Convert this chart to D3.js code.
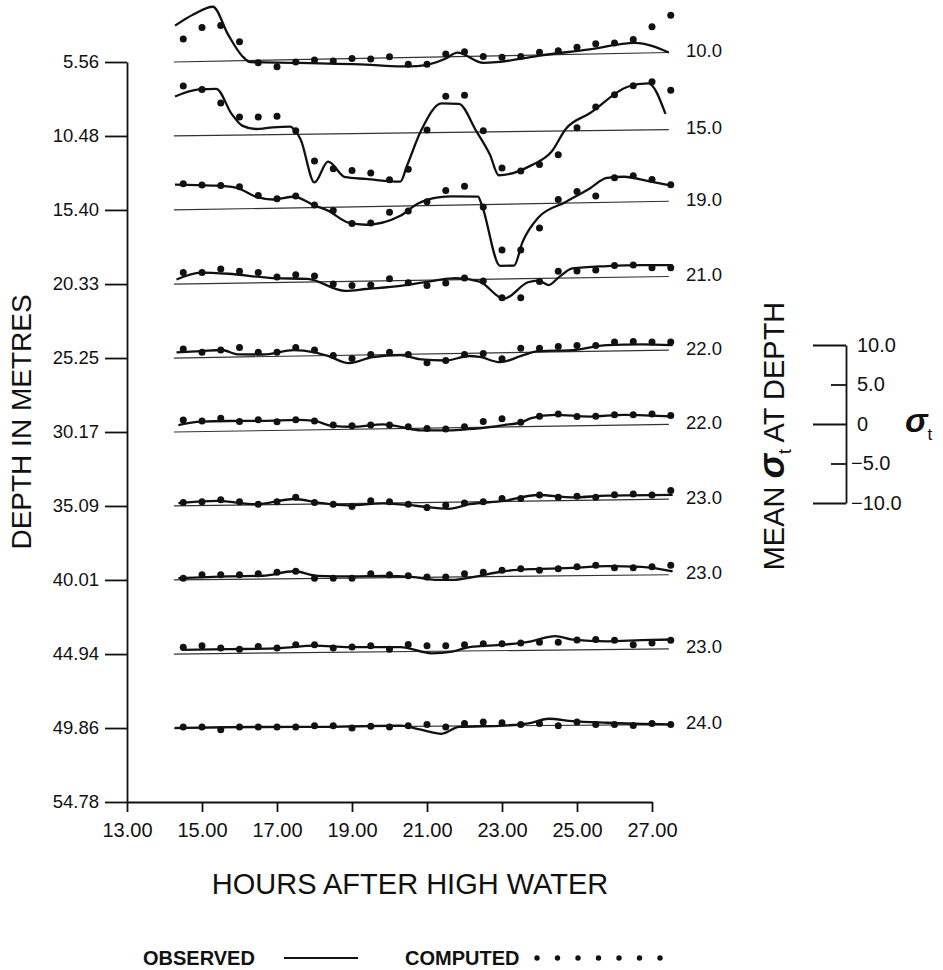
<!DOCTYPE html>
<html>
<head>
<meta charset="utf-8">
<script src="https://cdn.jsdelivr.net/npm/d3@7"></script>
<style>
  body { margin: 0; background: #fff; }
  svg text { font-family: "Liberation Sans", Arial, Helvetica, sans-serif; fill: #111; }
</style>
</head>
<body>
<div id="chart"></div>
<script>
// times of the computed values, hours after high water
var hours = [14.5, 15.0, 15.5, 16.0, 16.5, 17.0, 17.5, 18.0, 18.5, 19.0, 19.5, 20.0, 20.5, 21.0,
             21.5, 22.0, 22.5, 23.0, 23.5, 24.0, 24.5, 25.0, 25.5, 26.0, 26.5, 27.0, 27.5];
var hourTicks = [13, 15, 17, 19, 21, 23, 25, 27];
var depthTicks = [5.56, 10.48, 15.40, 20.33, 25.25, 30.17, 35.09, 40.01, 44.94, 49.86, 54.78];
// mean sigma-t written beside each depth trace
var meanSigma = ["10.0", "15.0", "19.0", "21.0", "22.0", "22.0", "23.0", "23.0", "23.0", "24.0"];
// rise of each reference line over the record, sigma-t units
var baseDrift = [1.2, 0.8, 1.1, 0.96, 1.0, 0.96, 0.87, 0.66, 0.66, 0.43];
var sigmaTicks = [10, 5, 0, -5, -10];

// observed: [hour, sigma-t anomaly]
var obs1 = [[14.28,4.6],[14.78,6.0],[15.29,6.9],[15.7,3.3],[16.07,0.6],[16.29,-0.2],[17.54,-0.4],[19.37,-0.8],
            [20.29,-1.1],[20.74,-1.1],[21.49,-0.25],[21.81,0.5],[22.5,-0.85],[22.86,-0.8],[23.97,-0.1],
            [25.34,0.6],[26.54,1.3],[27.45,0]];
var obs2 = [[14.28,5.0],[14.92,5.85],[15.38,5.9],[15.79,2.7],[16.07,1.2],[16.43,0.75],[16.89,0.94],[17.35,1.0],
            [17.49,0.45],[17.63,-0.65],[18.0,-6.1],[18.36,-3.5],[18.82,-5.5],[19.37,-5.75],[20.29,-6.15],
            [20.47,-4.1],[20.84,0.25],[21.39,3.7],[21.85,3.6],[22.31,0.16],[22.68,-2.9],[22.91,-5.5],
            [23.78,-4.3],[24.33,-2.55],[24.7,0.25],[25.34,2.2],[26.35,5.5],[26.9,5.9],[27.36,2.0]];
var obs3 = [[14.28,3.2],[15.27,3.0],[15.9,2.7],[16.43,1.5],[16.89,1.1],[17.45,1.4],[18.0,0.25],[18.36,-0.43],
            [18.91,-2.0],[19.37,-2.3],[20.29,-1.24],[20.75,0.25],[21.3,1.0],[21.67,1.1],[22.36,1.0],
            [22.45,0.1],[22.95,-7.8],[23.32,-7.8],[23.55,-4.8],[23.97,-1.76],[24.7,0.14],[25.34,1.8],
            [25.8,3.1],[26.26,3.2],[26.9,2.6],[27.55,1.95]];
var obs4 = [[14.32,0.57],[14.97,1.4],[15.7,1.2],[16.89,0.56],[17.81,0.4],[18.82,-1.2],[19.37,-1.0],[20.29,-0.66],
            [21.21,-0.06],[21.76,0.2],[22.4,-0.28],[23.05,-2.5],[23.69,-0.46],[23.97,-0.27],[24.24,-0.85],
            [24.52,0.13],[24.88,1.2],[25.8,1.43],[26.72,1.5],[27.55,1.43]];
var obs5 = [[14.32,0.7],[14.97,0.82],[15.52,0.92],[15.98,0.32],[16.62,0.27],[17.45,0.77],[18.0,0.43],[18.36,-0.05],
            [18.91,-1.0],[19.56,-0.27],[20.29,-0.1],[20.84,-0.67],[21.49,-0.86],[22.13,-0.34],[22.4,-0.48],
            [22.95,-1.19],[23.51,-0.44],[23.97,0.13],[24.88,0.2],[25.8,0.77],[26.72,0.78],[27.55,0.63]];
var obs6 = [[14.37,0.87],[14.97,1.25],[15.7,1.29],[16.62,1.23],[17.54,1.29],[18.0,1.13],[18.46,0.48],[19.01,0.32],
            [19.83,0.56],[20.29,0.22],[20.84,-0.27],[21.67,-0.33],[22.31,-0.15],[23.05,0.24],[23.51,0.54],
            [23.78,1.05],[24.42,1.44],[25.34,1.15],[26.26,1.3],[27.55,0.99]];
var obs7 = [[14.37,0.34],[15.42,0.57],[16.43,0.08],[17.45,0.67],[18.09,0.18],[18.91,-0.22],[19.83,-0.03],
            [20.75,-0.43],[21.58,-0.84],[22.13,-0.3],[23.05,0.06],[23.97,0.75],[24.88,0.39],[25.8,0.54],[27.55,0.52]];
var obs8 = [[14.37,0.22],[15.7,0.38],[16.62,0.41],[17.45,0.94],[18.09,0.33],[19.01,0.22],[19.83,0.24],[20.66,0.04],
            [21.21,-0.34],[21.67,-0.37],[22.22,-0.04],[23.05,0.66],[23.97,0.91],[24.88,1.0],[25.8,1.18],
            [26.72,1.04],[27.55,0.43]];
var obs9 = [[14.46,0.52],[15.7,0.54],[17.08,0.61],[18.0,0.87],[18.91,0.65],[20.29,0.58],[21.12,-0.25],[21.67,-0.06],
            [22.13,0.48],[23.05,0.75],[23.78,1.14],[24.42,1.76],[24.88,1.3],[25.8,1.04],[26.72,1.13],[27.55,1.18]];
var obs10 = [[14.28,0],[15.7,0.08],[17.54,0.03],[20.29,0.11],[20.84,-0.43],[21.39,-0.96],[21.85,-0.11],[23.05,0.03],
             [23.78,0.35],[24.24,0.85],[24.88,0.53],[25.8,0.29],[27.55,0]];

// computed: one value per entry of hours
var comp1 = [2.9, 4.3, 4.5, 2.4, -0.3, -0.85, -0.3, -0.1, -0.25, 0, -0.1, 0.15, -0.85, -0.9, 0.35, 0.6, -0.05,
             -0.2, -0.15, 0.35, 0.5, 0.9, 1.3, 1.35, 1.75, 3.3, 4.7];
var comp2 = [6.3, 5.85, 4.1, 2.3, 2.27, 2.33, 0.46, -3.4, -4.4, -4.65, -5.0, -5.9, -4.6, 0.34, 4.6, 4.7, 0.16,
             -4.6, -5.0, -4.2, -3.0, 0.38, 3.0, 4.5, 5.6, 6.1, 5.0];
var comp3 = [3.3, 3.1, 3.0, 2.8, 1.65, 1.2, 1.5, 0.3, -0.43, -2.1, -2.1, -0.76, -0.67, 0.47, 1.86, 2.34, -0.33,
             -5.8, -5.85, -3.1, 0.48, 1.44, 0.82, 3.1, 3.3, 2.8, 2.1];
var comp4 = [1.43, 1.4, 1.8, 1.5, 1.3, 0.68, 0.95, 0.75, -0.3, -0.54, -0.5, 0.25, -0.3, -0.68, -0.38, 0.2, -0.2,
             -2.37, -2.4, -0.38, 0.89, 0.86, 0.95, 1.48, 1.53, 1.14, 1.1];
var comp5 = [1.13, 0.66, 0.92, 1.19, 0.56, 0.51, 1.08, 0.73, 0.0, -0.43, 0.05, 0.29, -0.03, -1.11, -0.85, -0.14,
             -0.05, -0.75, 0.53, 0.49, 0.67, 0.76, 0.72, 1.13, 1.18, 1.05, 1.01];
var comp6 = [1.5, 1.34, 1.66, 1.19, 1.38, 1.11, 1.3, 1.13, 0.57, 0.44, 0.51, 0.47, 0.22, -0.04, -0.16, 0.1, 0.72,
             1.03, 0.56, 1.27, 1.53, 1.19, 1.16, 1.34, 1.29, 1.34, 1.14];
var comp7 = [0.42, 0.5, 0.71, 0.42, 0.08, 0.34, 0.89, 0.19, -0.06, -0.39, 0.32, 0.15, -0.18, -0.65, -0.38, -0.15,
             0, 0.38, 0.35, 0.76, 0.43, 0.52, 0.37, 0.63, 0.72, 0.56, 1.1];
var comp8 = [0.2, 0.62, 0.61, 0.58, 0.68, 0.84, 0.94, 0.03, 0.01, -0.01, 0.53, 0.38, 0.22, 0.03, 0, 0.4, 0.56,
             0.8, 0.94, 0.75, 0.9, 1.13, 1.29, 0.95, 0.94, 1.03, 1.19];
var comp9 = [0.86, 1.03, 0.7, 0.53, 0.86, 0.62, 1.03, 0.99, 0.54, 0.65, 0.8, 0.33, 0.89, 0.72, 0.7, 0.8, 0.9,
             0.87, 0.94, 1.0, 0.99, 1.23, 1.29, 1.16, 0.57, 0.76, 1.1];
var comp10 = [0.11, 0.1, -0.25, 0.08, 0.05, 0.04, 0.01, 0.18, 0.16, -0.15, 0.05, -0.06, 0.1, 0.22, -0.1, 0.32,
              0.48, 0.38, 0.14, 0.27, -0.03, 0.41, 0.08, 0.05, -0.09, 0.15, 0];

var observed = [obs1, obs2, obs3, obs4, obs5, obs6, obs7, obs8, obs9, obs10];
var computed = [comp1, comp2, comp3, comp4, comp5, comp6, comp7, comp8, comp9, comp10];

var width = 943, height = 970;
var svg = d3.select("#chart").append("svg")
    .attr("width", width)
    .attr("height", height);

var x = d3.scaleLinear().domain([13, 27]).range([127, 652]);
var y = d3.scaleLinear().domain([5.56, 54.78]).range([62, 802]);
// sigma-t anomaly -> vertical offset in pixels
var sig = d3.scaleLinear().domain([-10, 10]).range([79, -79]);
var tStart = 14.25, tEnd = 27.45;

function yAt(p, t, v) {
  return y(depthTicks[p]) + sig(v + baseDrift[p] * (t - tStart) / (tEnd - tStart));
}

// depth axis
var yAxis = d3.axisLeft(y)
    .tickValues(depthTicks)
    .tickFormat(d3.format(".2f"))
    .tickSize(22)
    .tickSizeOuter(0)
    .tickPadding(6);
var gy = svg.append("g").attr("transform", "translate(127,0)").call(yAxis);
gy.attr("font-size", null).attr("font-family", null);
gy.selectAll("text").style("font-size", "18.5px");
gy.selectAll("line,path").attr("stroke", "#111").attr("stroke-width", 1.8);

// time axis
var xAxis = d3.axisBottom(x)
    .tickValues(hourTicks)
    .tickFormat(d3.format(".2f"))
    .tickSize(10)
    .tickSizeOuter(0)
    .tickPadding(11);
var gx = svg.append("g").attr("transform", "translate(0,802)").call(xAxis);
gx.attr("font-size", null).attr("font-family", null);
gx.selectAll("text").style("font-size", "20px");
gx.selectAll("line,path").attr("stroke", "#111").attr("stroke-width", 1.8);

// axis titles
svg.append("text")
    .attr("transform", "translate(31,422) rotate(-90)")
    .attr("text-anchor", "middle")
    .style("font-size", "28px")
    .text("DEPTH IN METRES");

svg.append("text")
    .attr("x", 410)
    .attr("y", 894)
    .attr("text-anchor", "middle")
    .style("font-size", "29px")
    .text("HOURS AFTER HIGH WATER");

// one trace per depth
var line = d3.line().curve(d3.curveMonotoneX);

observed.forEach(function (obs, p) {
  var g = svg.append("g").attr("class", "depth-trace");

  // reference line (mean sigma-t)
  g.append("line")
      .attr("x1", x(tStart)).attr("y1", yAt(p, tStart, 0))
      .attr("x2", x(tEnd)).attr("y2", yAt(p, tEnd, 0))
      .attr("stroke", "#333")
      .attr("stroke-width", 1.2);

  g.append("path")
      .attr("d", line.x(function (d) { return x(d[0]); })
                     .y(function (d) { return yAt(p, d[0], d[1]); })(obs))
      .attr("fill", "none")
      .attr("stroke", "#111")
      .attr("stroke-width", 2.3);

  g.selectAll("circle")
      .data(computed[p])
      .enter()
      .append("circle")
      .attr("cx", function (d, i) { return x(hours[i]); })
      .attr("cy", function (d, i) { return yAt(p, hours[i], d); })
      .attr("r", 3.5)
      .attr("fill", "#111");

  g.append("text")
      .attr("x", 686)
      .attr("y", yAt(p, tEnd, 0) - 2)
      .attr("dy", "0.35em")
      .style("font-size", "18.5px")
      .text(meanSigma[p]);
});

// sigma-t scale bar
var sBar = d3.scaleLinear().domain([-10, 10]).range([424 + 79, 424 - 79]);
var sAxis = d3.axisRight(sBar)
    .tickValues(sigmaTicks)
    .tickFormat(function (d) { return d === 0 ? "0" : d3.format(".1f")(d); })
    .tickSize(-33)
    .tickSizeOuter(0)
    .tickPadding(11);
var gs = svg.append("g").attr("transform", "translate(846,0)").call(sAxis);
gs.attr("font-size", null).attr("font-family", null);
gs.selectAll("text").style("font-size", "20px");
gs.selectAll("line,path").attr("stroke", "#111").attr("stroke-width", 1.8);
gs.selectAll(".tick line").attr("x2", function (d) { return Math.abs(d) === 5 ? -15 : -33; });
gs.selectAll(".tick text").attr("x", function (d) { return d < 0 ? 5 : 11; });

var sLabel = svg.append("text")
    .attr("transform", "translate(784,436) rotate(-90)")
    .attr("text-anchor", "middle")
    .style("font-size", "29px");
sLabel.append("tspan").text("MEAN ");
sLabel.append("tspan").style("font-style", "italic").style("font-weight", "bold")
    .style("font-size", "37px").text("σ");
sLabel.append("tspan").attr("dy", 7).style("font-size", "18px").text("t");
sLabel.append("tspan").attr("dy", -7).text(" AT DEPTH");

var sigSym = svg.append("text")
    .attr("x", 905)
    .attr("y", 432);
sigSym.append("tspan").style("font-style", "italic").style("font-weight", "bold")
    .style("font-size", "34px").text("σ");
sigSym.append("tspan").attr("dy", 8).style("font-size", "17px").text("t");

// legend
var legY = 958;
svg.append("text").attr("x", 143).attr("y", legY + 7)
    .style("font-size", "20px").style("font-weight", "bold").text("OBSERVED");
svg.append("line")
    .attr("x1", 284).attr("x2", 358).attr("y1", legY).attr("y2", legY)
    .attr("stroke", "#111").attr("stroke-width", 1.8);
svg.append("text").attr("x", 405).attr("y", legY + 7)
    .style("font-size", "20px").style("font-weight", "bold").text("COMPUTED");
svg.selectAll("circle.legend-dot")
    .data([0, 1, 2, 3, 4, 5, 6])
    .enter()
    .append("circle")
    .attr("class", "legend-dot")
    .attr("cx", function (d) { return 537 + d * 20.5; })
    .attr("cy", legY)
    .attr("r", 2.7)
    .attr("fill", "#111");
</script>
</body>
</html>
